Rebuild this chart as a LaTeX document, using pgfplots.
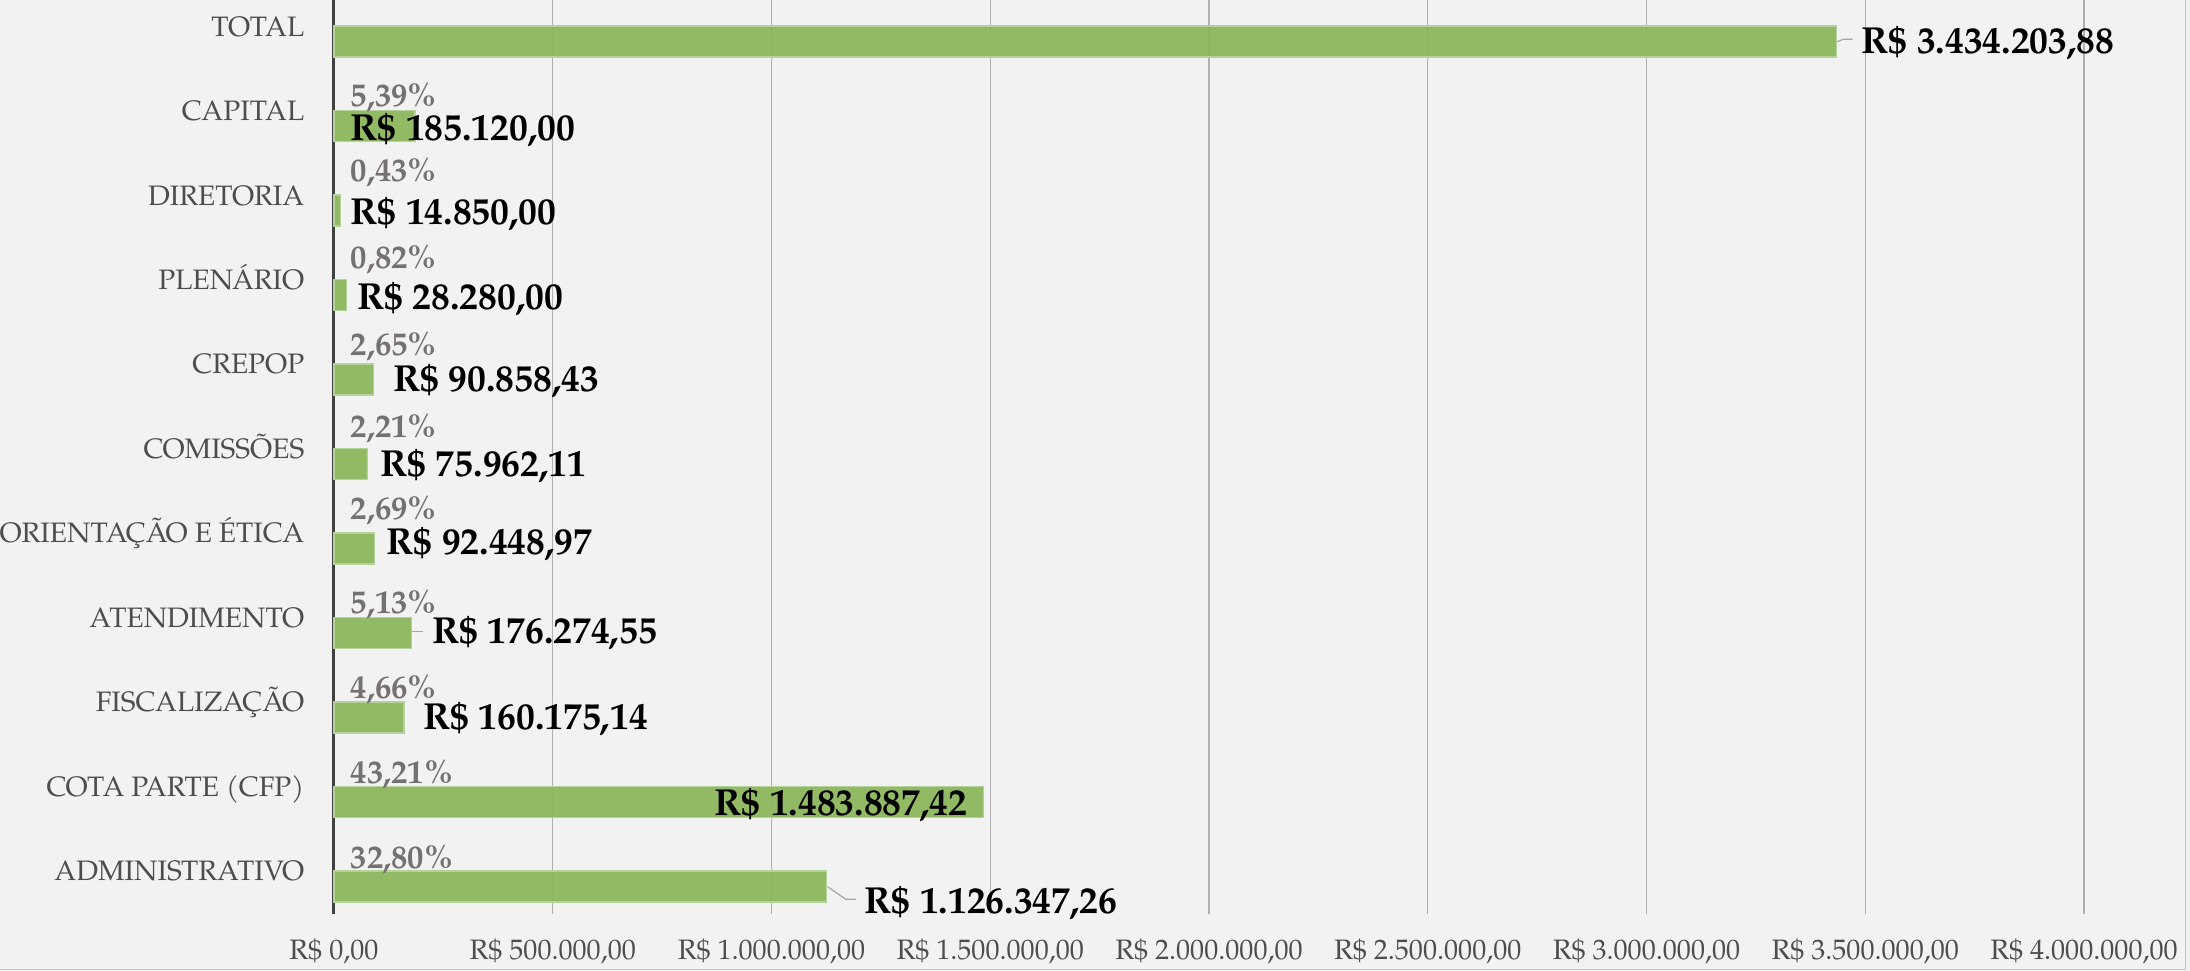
\documentclass[border=0pt]{standalone}
\usepackage{fontspec}
\setmainfont{TeX Gyre Pagella}
\usepackage{pgfplots}
\pgfplotsset{compat=1.18}
\usepackage{pgfplotstable}

\definecolor{bg}{HTML}{F2F2F2}
\definecolor{barfill}{HTML}{8BB65A}
\definecolor{barline}{HTML}{B4D39A}
\definecolor{gridc}{HTML}{B0B0B0}
\definecolor{axline}{HTML}{404040}
\definecolor{axtext}{HTML}{4D4D4D}
\definecolor{pctc}{HTML}{767171}
\definecolor{lead}{HTML}{A6A6A6}
\definecolor{bordc}{HTML}{C4C4C4}

% idx 0 = ADMINISTRATIVO ... 10 = TOTAL
\pgfplotstableread{
idx value
0 1126347.26
1 1483887.42
2 160175.14
3 176274.55
4 92448.97
5 75962.11
6 90858.43
7 28280.00
8 14850.00
9 185120.00
10 3434203.88
}\bars

% percentage labels (position, text)
\pgfplotstableread{
lx ly pct
36600 9.051 5,39\%
36600 8.163 0,43\%
36600 7.139 0,82\%
36600 6.112 2,65\%
36600 5.138 2,21\%
36600 4.160 2,69\%
36600 3.056 5,13\%
36600 2.050 4,66\%
36600 1.044 43,21\%
36600 0.038 32,80\%
}\pcts

% value labels, left aligned
\pgfplotstableread{
lx ly txt
3490300 9.683 {R\$ 3.434.203,88}
36600 8.649 {R\$ 185.120,00}
36600 7.659 {R\$ 14.850,00}
51900 6.653 {R\$ 28.280,00}
134200 5.686 {R\$ 90.858,43}
105100 4.672 {R\$ 75.962,11}
118900 3.746 {R\$ 92.448,97}
223300 2.701 {R\$ 176.274,55}
202700 1.686 {R\$ 160.175,14}
1211400 -0.495 {R\$ 1.126.347,26}
}\vals

\begin{document}
\begin{tikzpicture}
\fill[bg] (-3.34,-0.5725) rectangle (18.56,9.1375);
\draw[bordc, line width=0.015cm] (-3.4,-0.5575) -- (18.515,-0.5575) -- (18.515,9.2);
\begin{axis}[
    at={(0,0)}, anchor=south west,
    scale only axis,
    width=17.5cm, height=9.1375cm,
    xmin=0, xmax=4000000,
    ymin=-0.5, ymax=10.314,
    clip=false,
    separate axis lines,
    axis x line*=bottom,
    axis y line*=left,
    x axis line style={draw=none},
    y axis line style={draw=axline, line width=0.03cm},
    major tick length=0pt,
    xmajorgrids,
    grid style={gridc, line width=0.012cm},
    scaled x ticks=false,
    xtick={0,500000,1000000,1500000,2000000,2500000,3000000,3500000,4000000},
    xticklabels={{R\$ 0,00},{R\$ 500.000,00},{R\$ 1.000.000,00},{R\$ 1.500.000,00},{R\$ 2.000.000,00},{R\$ 2.500.000,00},{R\$ 3.000.000,00},{R\$ 3.500.000,00},{R\$ 4.000.000,00}},
    xticklabel style={anchor=base, inner sep=0pt, yshift=-0.46cm, text=axtext, font=\fontsize{8}{9.6}\selectfont},
    ytick={0,1,2,3,4,5,6,7,8,9,10},
    yticklabels={ADMINISTRATIVO,COTA PARTE (CFP),FISCALIZAÇÃO,ATENDIMENTO,ORIENTAÇÃO E ÉTICA,COMISSÕES,CREPOP,PLENÁRIO,DIRETORIA,CAPITAL,TOTAL},
    yticklabel style={anchor=base east, inner sep=0pt, xshift=-0.29cm, yshift=-0.095cm, text=axtext, font=\fontsize{8}{9.6}\selectfont},
]
\addplot[xbar, bar width=0.367, bar shift=-0.1775, fill=barfill, fill opacity=0.93, draw=barline, line width=0.012cm]
    table[x=value, y=idx]{\bars};

% leader lines
\addplot[lead, line width=0.012cm] coordinates {(3436100,9.820) (3449800,9.849) (3471300,9.849)};
\addplot[lead, line width=0.012cm] coordinates {(177600,2.838) (204100,2.838)};
\addplot[lead, line width=0.012cm] coordinates {(1128400,-0.180) (1169600,-0.329) (1193100,-0.329)};

% percentages
\addplot[only marks, mark=*, mark size=0pt, mark options={draw=none, fill=none},
    nodes near coords, point meta=explicit symbolic,
    nodes near coords style={anchor=base west, inner sep=0pt, text=pctc, font=\bfseries\fontsize{9.3}{11}\selectfont}]
    table[x=lx, y=ly, meta=pct]{\pcts};

% values
\addplot[only marks, mark=*, mark size=0pt, mark options={draw=none, fill=none},
    nodes near coords, point meta=explicit symbolic,
    nodes near coords style={anchor=base west, inner sep=0pt, text=black, font=\bfseries\fontsize{10.7}{12.8}\selectfont}]
    table[x=lx, y=ly, meta=txt]{\vals};

% value inside the end of the COTA PARTE bar
\addplot[only marks, mark=*, mark size=0pt, mark options={draw=none, fill=none},
    nodes near coords, point meta=explicit symbolic,
    nodes near coords style={anchor=base east, inner sep=0pt, text=black, font=\bfseries\fontsize{10.7}{12.8}\selectfont}]
    coordinates {(1449800,0.657) [R\$ 1.483.887,42]};
\end{axis}
\pgfresetboundingbox
\useasboundingbox (-3.34,-0.5725) rectangle (18.56,9.1375);
\end{tikzpicture}
\end{document}
